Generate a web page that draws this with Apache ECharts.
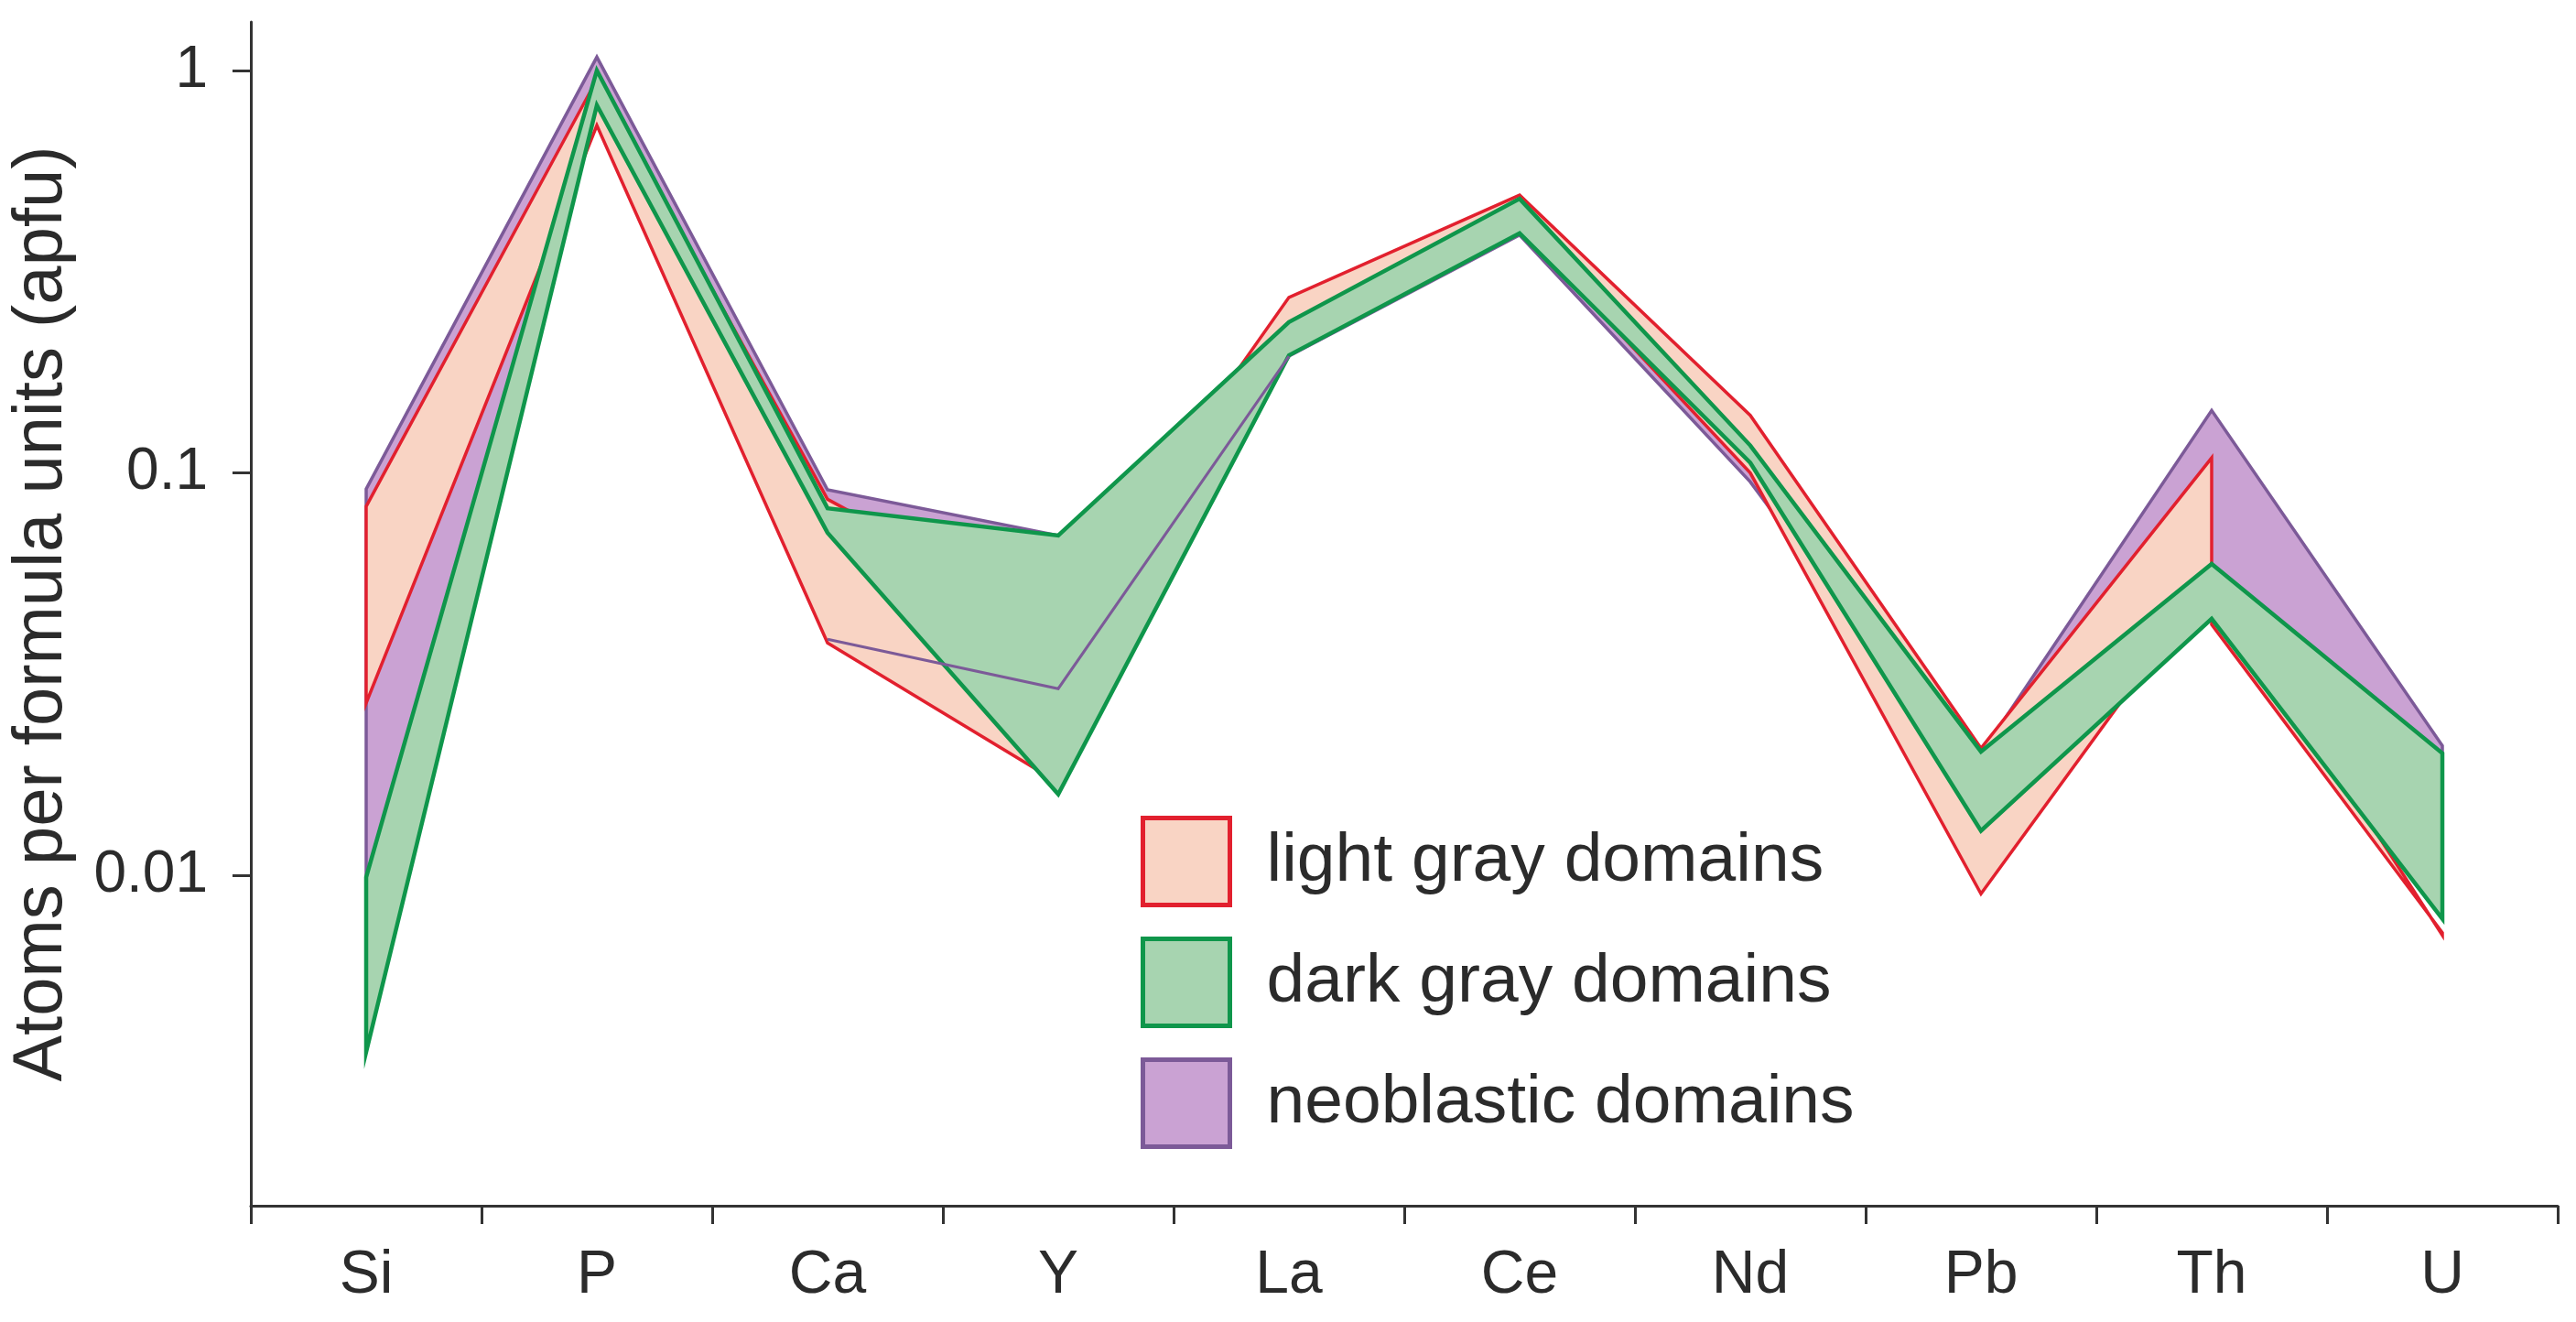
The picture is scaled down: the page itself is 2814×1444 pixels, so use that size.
<!DOCTYPE html>
<html>
<head>
<meta charset="utf-8">
<script src="https://cdn.jsdelivr.net/npm/echarts@6/dist/echarts.min.js"></script>
<style>
html,body{margin:0;padding:0;background:#ffffff;}
#chart{width:2814px;height:1444px;}
</style>
</head>
<body>
<div id="chart"></div>
<script>
// ---------------- data (apfu) ----------------
const categories = ['Si', 'P', 'Ca', 'Y', 'La', 'Ce', 'Nd', 'Pb', 'Th', 'U'];
const yTickValues = [0.01, 0.1, 1];
const yTickLabels = ['0.01', '0.1', '1'];

// light gray domains (an inner array = vertical step at that element)
const lightGrayUpper = [0.0826, 0.95, 0.086, 0.042, 0.273, 0.49, 0.139, 0.0207, [0.109, 0.042], 0.0072];
const lightGrayLower = [0.0268, 0.73, 0.0378, 0.017, 0.20, 0.41, 0.100, 0.0090, 0.055, 0.0071];

// dark gray domains
const darkGrayUpper = [0.0099, 1.00, 0.0817, 0.0699, 0.237, 0.48, 0.117, 0.0203, 0.0594, 0.0201];
const darkGrayLower = [0.00364, 0.82, 0.071, 0.0159, 0.196, 0.394, 0.106, 0.0129, 0.0434, 0.0078];

// neoblastic domains
const neoUpper = [0.0912, 1.08, 0.0908, 0.0699, 0.225, 0.46, 0.110, 0.020, 0.143, 0.021];
const neoLower = [0.00877, 0.92, 0.0386, 0.0291, 0.195, 0.39, 0.095, 0.016, 0.048, 0.0105];

const seriesNames = ['light gray domains', 'dark gray domains', 'neoblastic domains'];

// ---------------- styling ----------------
const FONT = "'Liberation Sans', Arial, Helvetica, sans-serif";
const TEXT = '#2b2b2b';
const AXIS = '#333333';
const styles = {
  light: { fill: '#F9D4C4', stroke: '#E2202E', lw: 3.5 },
  dark:  { fill: '#A7D4B0', stroke: '#0F964B', lw: 4.5 },
  neo:   { fill: '#CAA2D3', stroke: '#7C5A98', lw: 3.5 }
};

function toPoints(arr, from, to) {
  const out = [];
  for (let i = from; i <= to; i++) {
    const v = arr[i];
    (Array.isArray(v) ? v : [v]).forEach(y => out.push([i, y]));
  }
  return out;
}
function first(v) { return Array.isArray(v) ? v[0] : v; }

function bandSeries(name, upper, lower, st, z) {
  const up = toPoints(upper, 0, upper.length - 1);
  const lo = toPoints(lower, 0, lower.length - 1).reverse();
  const outline = up.concat(lo);
  return {
    type: 'custom',
    name: name,
    coordinateSystem: 'cartesian2d',
    z: z,
    silent: true,
    itemStyle: { color: st.fill, borderColor: st.stroke, borderWidth: 5 },
    encode: { x: 0, y: 1 },
    data: upper.map((v, i) => [i, first(v), first(lower[i])]),
    renderItem: function (params, api) {
      if (params.dataIndex !== 0) return null;
      const pts = outline.map(p => api.coord(p));
      return {
        type: 'polygon',
        shape: { points: pts },
        style: { fill: st.fill, stroke: st.stroke, lineWidth: st.lw, lineJoin: 'miter', miterLimit: 20 }
      };
    }
  };
}

function lineOverlay(arr, from, to, st, z) {
  const pts0 = toPoints(arr, from, to);
  return {
    type: 'custom',
    coordinateSystem: 'cartesian2d',
    z: z,
    silent: true,
    encode: { x: 0, y: 1 },
    data: pts0,
    renderItem: function (params, api) {
      if (params.dataIndex !== 0) return null;
      return {
        type: 'polyline',
        shape: { points: pts0.map(p => api.coord(p)) },
        style: { fill: null, stroke: st.stroke, lineWidth: st.lw - 0.5, lineJoin: 'miter' }
      };
    }
  };
}

function tickLabel(v) {
  for (let i = 0; i < yTickValues.length; i++) {
    if (Math.abs(Math.log10(v) - Math.log10(yTickValues[i])) < 1e-6) return yTickLabels[i];
  }
  return '';
}

const chart = echarts.init(document.getElementById('chart'), null, { renderer: 'canvas' });
chart.setOption({
  animation: false,
  backgroundColor: '#ffffff',
  grid: { left: 274, right: 20, top: 24, bottom: 127, containLabel: false, outerBoundsMode: 'none' },
  legend: {
    orient: 'vertical',
    left: 1241,
    top: 886,
    itemWidth: 95,
    itemHeight: 95,
    itemGap: 32,
    icon: 'rect',
    selectedMode: false,
    textStyle: { fontSize: 75, color: TEXT, fontFamily: FONT, padding: [0, 0, 0, 35] },
    data: [
      { name: seriesNames[0], icon: 'rect', itemStyle: { color: styles.light.fill, borderColor: styles.light.stroke, borderWidth: 5 } },
      { name: seriesNames[1], icon: 'rect', itemStyle: { color: styles.dark.fill, borderColor: styles.dark.stroke, borderWidth: 5 } },
      { name: seriesNames[2], icon: 'rect', itemStyle: { color: styles.neo.fill, borderColor: styles.neo.stroke, borderWidth: 5 } }
    ]
  },
  xAxis: {
    type: 'category',
    data: categories,
    boundaryGap: true,
    axisLine: { show: true, lineStyle: { color: AXIS, width: 3 } },
    axisTick: { show: true, inside: false, length: 20, interval: 0, lineStyle: { color: AXIS, width: 3 } },
    axisLabel: { interval: 0, fontSize: 66, color: TEXT, fontFamily: FONT, margin: 44 },
    splitLine: { show: false }
  },
  yAxis: {
    type: 'log',
    logBase: 10,
    min: 0.00151,
    max: 1.32,
    axisLine: { show: true, lineStyle: { color: AXIS, width: 3 } },
    axisTick: { show: true, inside: false, length: 20, lineStyle: { color: AXIS, width: 3 }, customValues: yTickValues },
    axisLabel: { customValues: yTickValues, formatter: tickLabel, fontSize: 64, color: TEXT, fontFamily: FONT, margin: 47 },
    minorTick: { show: false },
    splitLine: { show: false },
    name: 'Atoms per formula units (apfu)',
    nameLocation: 'middle',
    nameGap: 190,
    nameMoveOverlap: false,
    nameTextStyle: { fontSize: 76, color: TEXT, fontFamily: FONT, padding: [0, 0, 0, 0] }
  },
  series: [
    bandSeries(seriesNames[2], neoUpper, neoLower, styles.neo, 1),
    bandSeries(seriesNames[0], lightGrayUpper, lightGrayLower, styles.light, 2),
    bandSeries(seriesNames[1], darkGrayUpper, darkGrayLower, styles.dark, 3),
    lineOverlay(neoLower, 2, 4, styles.neo, 4)
  ]
});
</script>
</body>
</html>
